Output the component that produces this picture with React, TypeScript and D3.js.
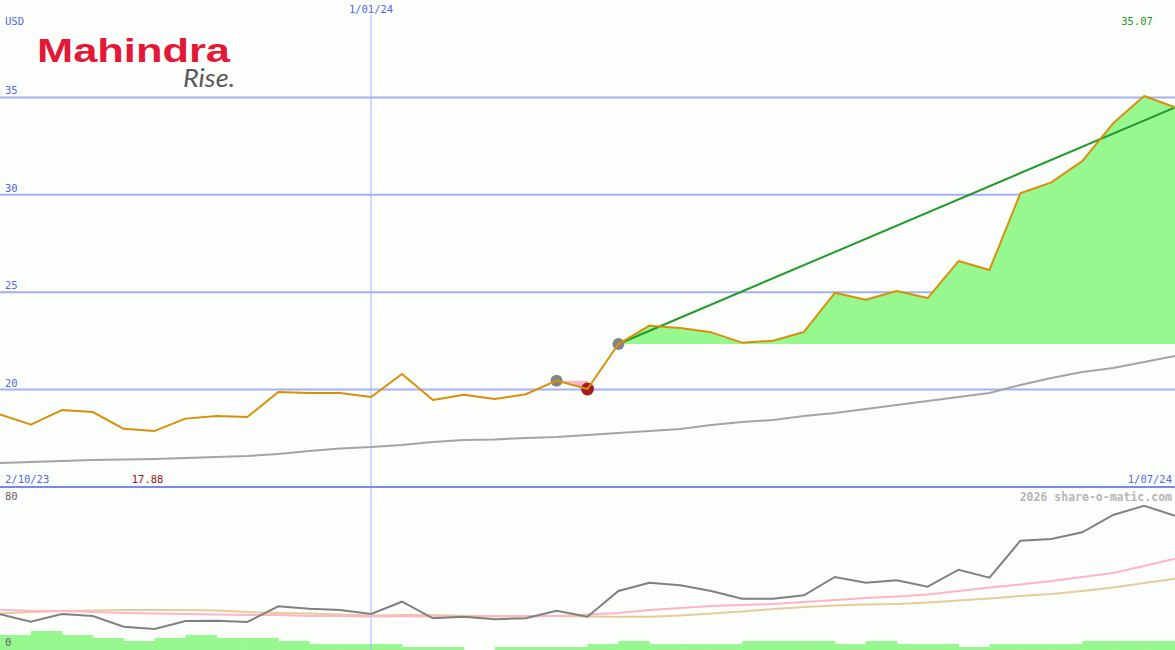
import React, { useEffect, useRef } from "react";
import * as d3 from "d3";

const width = 1175;
const height = 650;

// weekly close, USD
const closes = [
  18.73, 18.2, 18.95, 18.85, 17.99, 17.88, 18.51, 18.64, 18.59, 19.88,
  19.83, 19.83, 19.62, 20.8, 19.47, 19.74, 19.52, 19.76, 20.46, 20.03,
  22.34, 23.28, 23.16, 22.94, 22.41, 22.51, 22.96, 24.97, 24.61, 25.06,
  24.7, 26.6, 26.14, 30.08, 30.64, 31.73, 33.67, 35.07, 34.49,
];

// long moving average on the price panel
const longAvg = [
  16.23, 16.28, 16.33, 16.39, 16.41, 16.44, 16.49, 16.54, 16.59, 16.69,
  16.85, 16.98, 17.05, 17.16, 17.31, 17.41, 17.44, 17.52, 17.57, 17.67,
  17.77, 17.87, 17.98, 18.18, 18.34, 18.44, 18.64, 18.8, 19.0, 19.21,
  19.41, 19.62, 19.83, 20.24, 20.6, 20.9, 21.11, 21.42, 21.72,
];

// lower panel indicator (0-80) and its two averages
const indicator = [
  17.85, 14.15, 18, 17, 11.65, 10.5, 14.5, 14.65, 14, 21.85,
  20.65, 20, 18, 24.15, 15.85, 16.65, 15.35, 15.85, 19.65, 16.65,
  29.5, 33.65, 32.35, 29.5, 25.65, 25.65, 27.35, 36.5, 33.65, 34.85,
  31.65, 40.15, 36.15, 54.65, 55.5, 58.85, 67.5, 72.15, 67.15,
];
const indicatorFast = [
  20.15, 19.65, 19.5, 19, 18.5, 18.3, 18, 17.7, 17.5, 17.5,
  17, 17, 16.8, 16.9, 16.7, 16.7, 16.7, 16.8, 17, 17.8,
  18.5, 20, 21, 22, 22.5, 23, 24, 25, 26, 26.75,
  27.75, 29.5, 31.25, 32.75, 34.5, 36.5, 38.5, 42, 45.65,
];
const indicatorSlow = [
  18.25, 19, 19.5, 19.75, 20, 20, 20, 19.75, 19, 18.5,
  18.25, 17.75, 17.25, 17.5, 17.5, 17, 17, 17, 17, 16.75,
  16.65, 16.65, 17.25, 18.25, 19.25, 20.5, 21.5, 22.25, 22.75, 23,
  23.75, 24.75, 25.75, 27, 28, 29.5, 31.25, 33.5, 35.65,
];

// weekly volume (millions)
const volume = [
  1.5, 1.9, 1.5, 1.2, 0.9, 1.2, 1.5, 1.2, 1.2, 0.9,
  0.6, 0.6, 0.6, 0.3, 0.3, 0, 0.3, 0.3, 0.3, 0.6,
  0.9, 0.6, 0.6, 0.6, 0.9, 0.9, 0.9, 0.6, 0.9, 0.6,
  0.6, 0.3, 0.6, 0.6, 0.6, 0.9, 0.9, 0.9,
];

const priceTicks = [20, 25, 30, 35];
const startLabel = "2/10/23";
const midLabel = "1/01/24";
const endLabel = "1/07/24";
const midIndex = 12;
const sellIndex = 18;
const lowIndex = 19;
const buyIndex = 20;

const mono = "'DejaVu Sans Mono', monospace";

const App: React.FC = () => {
  const svgRef = useRef<SVGSVGElement>(null);

  useEffect(() => {
    if (!svgRef.current) return;
    const svg = d3.select(svgRef.current);
    svg.selectAll("*").remove();

    const n = closes.length;
    const x = d3.scaleLinear().domain([0, n - 1]).range([0, width]);
    const y = d3.scaleLinear().domain([15, 40]).range([487, 0]);
    const yLow = d3.scaleLinear().domain([0, 80]).range([650, 490]);
    const yVol = d3.scaleLinear().domain([0, 2]).range([650, 630]);

    svg.append("rect").attr("width", width).attr("height", height).attr("fill", "#fcfefc");

    // volume
    svg
      .append("g")
      .selectAll("rect")
      .data(volume)
      .join("rect")
      .attr("x", (_, i) => x(i))
      .attr("width", (_, i) => x(i + 1) - x(i) + 0.5)
      .attr("y", (d) => yVol(d))
      .attr("height", (d) => yVol(0) - yVol(d))
      .attr("fill", "#98f890");

    // grid
    svg
      .append("g")
      .selectAll("line")
      .data(priceTicks)
      .join("line")
      .attr("x1", 0)
      .attr("x2", width)
      .attr("y1", (d) => y(d))
      .attr("y2", (d) => y(d))
      .attr("stroke", "#a4b0f2")
      .attr("stroke-width", 2);

    svg
      .append("line")
      .attr("x1", x(midIndex))
      .attr("x2", x(midIndex))
      .attr("y1", 15)
      .attr("y2", height)
      .attr("stroke", "#a8b6f8")
      .attr("stroke-width", 1);

    svg
      .append("line")
      .attr("x1", 0)
      .attr("x2", width)
      .attr("y1", 487)
      .attr("y2", 487)
      .attr("stroke", "#7888ee")
      .attr("stroke-width", 2);

    // signal areas
    const idx = d3.range(n);
    const sellBase = y(closes[sellIndex]);
    svg
      .append("path")
      .datum(idx.filter((i) => i >= sellIndex && i <= lowIndex))
      .attr(
        "d",
        d3
          .area<number>()
          .x((i) => x(i))
          .y0(sellBase)
          .y1((i) => y(closes[i]))
      )
      .attr("fill", "#f8b8c8");

    const buyBase = y(closes[buyIndex]);
    svg
      .append("path")
      .datum(idx.filter((i) => i >= buyIndex))
      .attr(
        "d",
        d3
          .area<number>()
          .x((i) => x(i))
          .y0(buyBase)
          .y1((i) => y(closes[i]))
      )
      .attr("fill", "#97f890");

    // long average
    const line = (vals: number[], ys: d3.ScaleLinear<number, number>) =>
      d3
        .line<number>()
        .x((_, i) => x(i))
        .y((d) => ys(d))(vals);

    svg
      .append("path")
      .attr("d", line(longAvg, y))
      .attr("fill", "none")
      .attr("stroke", "#a4a4a4")
      .attr("stroke-width", 2);

    // trend line
    svg
      .append("line")
      .attr("x1", x(buyIndex))
      .attr("y1", y(closes[buyIndex]))
      .attr("x2", x(n - 1))
      .attr("y2", y(closes[n - 1]))
      .attr("stroke", "#22992a")
      .attr("stroke-width", 2);

    // markers
    [sellIndex, buyIndex].forEach((i) => {
      svg
        .append("circle")
        .attr("cx", x(i))
        .attr("cy", y(closes[i]))
        .attr("r", 6)
        .attr("fill", "#858585");
    });
    svg
      .append("circle")
      .attr("cx", x(lowIndex))
      .attr("cy", y(closes[lowIndex]))
      .attr("r", 6.5)
      .attr("fill", "#a61c1c");

    svg
      .append("path")
      .attr("d", line(closes, y))
      .attr("fill", "none")
      .attr("stroke", "#d8900a")
      .attr("stroke-width", 2)
      .attr("stroke-linejoin", "round");

    // lower panel lines
    svg
      .append("path")
      .attr("d", line(indicatorSlow, yLow))
      .attr("fill", "none")
      .attr("stroke", "#e4cc9c")
      .attr("stroke-width", 2);
    svg
      .append("path")
      .attr("d", line(indicatorFast, yLow))
      .attr("fill", "none")
      .attr("stroke", "#ffb4c8")
      .attr("stroke-width", 2);
    svg
      .append("path")
      .attr("d", line(indicator, yLow))
      .attr("fill", "none")
      .attr("stroke", "#808080")
      .attr("stroke-width", 2);

    // text
    const label = (
      tx: number,
      ty: number,
      text: string,
      color: string,
      anchor = "start",
      size = 10.5,
      weight = "normal"
    ) =>
      svg
        .append("text")
        .attr("x", tx)
        .attr("y", ty)
        .attr("text-anchor", anchor)
        .attr("fill", color)
        .style("font-family", mono)
        .style("font-size", `${size}px`)
        .style("font-weight", weight)
        .text(text);

    label(5, 25, "USD", "#5566e8");
    priceTicks.forEach((t) => label(5, y(t) - 3, String(t), "#5566e8"));
    label(x(midIndex), 13, midLabel, "#5566e8", "middle");
    label(5, 483, startLabel, "#5566e8");
    label(width - 3, 483, endLabel, "#5566e8", "end");

    const maxI = d3.maxIndex(closes);
    const minI = d3.minIndex(closes);
    label(x(maxI) - 7, 25, d3.format(".2f")(closes[maxI]), "#229922", "middle");
    label(x(minI) - 7, 483, d3.format(".2f")(closes[minI]), "#a01414", "middle");

    label(5, 500, "80", "#606060");
    label(5, 646, "0", "#606060");
    label(width - 3, 501, "2026 share-o-matic.com", "#b6b6b6", "end", 11.5, "bold");

    // logo
    svg
      .append("text")
      .attr("x", 37)
      .attr("y", 62)
      .attr("textLength", 193)
      .attr("lengthAdjust", "spacingAndGlyphs")
      .attr("fill", "#e31837")
      .style("font-family", "'Liberation Sans', Arial, sans-serif")
      .style("font-weight", "bold")
      .style("font-size", "34px")
      .text("Mahindra");
    svg
      .append("text")
      .attr("x", 183)
      .attr("y", 87)
      .attr("textLength", 52)
      .attr("lengthAdjust", "spacingAndGlyphs")
      .attr("fill", "#5a5a5a")
      .style("font-family", "Lato, 'Open Sans', sans-serif")
      .style("font-style", "italic")
      .style("font-size", "26px")
      .text("Rise.");
  }, []);

  return (
    <>
      <style>{`body{margin:0}`}</style>
      <svg ref={svgRef} width={width} height={height} style={{ display: "block" }} />
    </>
  );
};

export default App;
